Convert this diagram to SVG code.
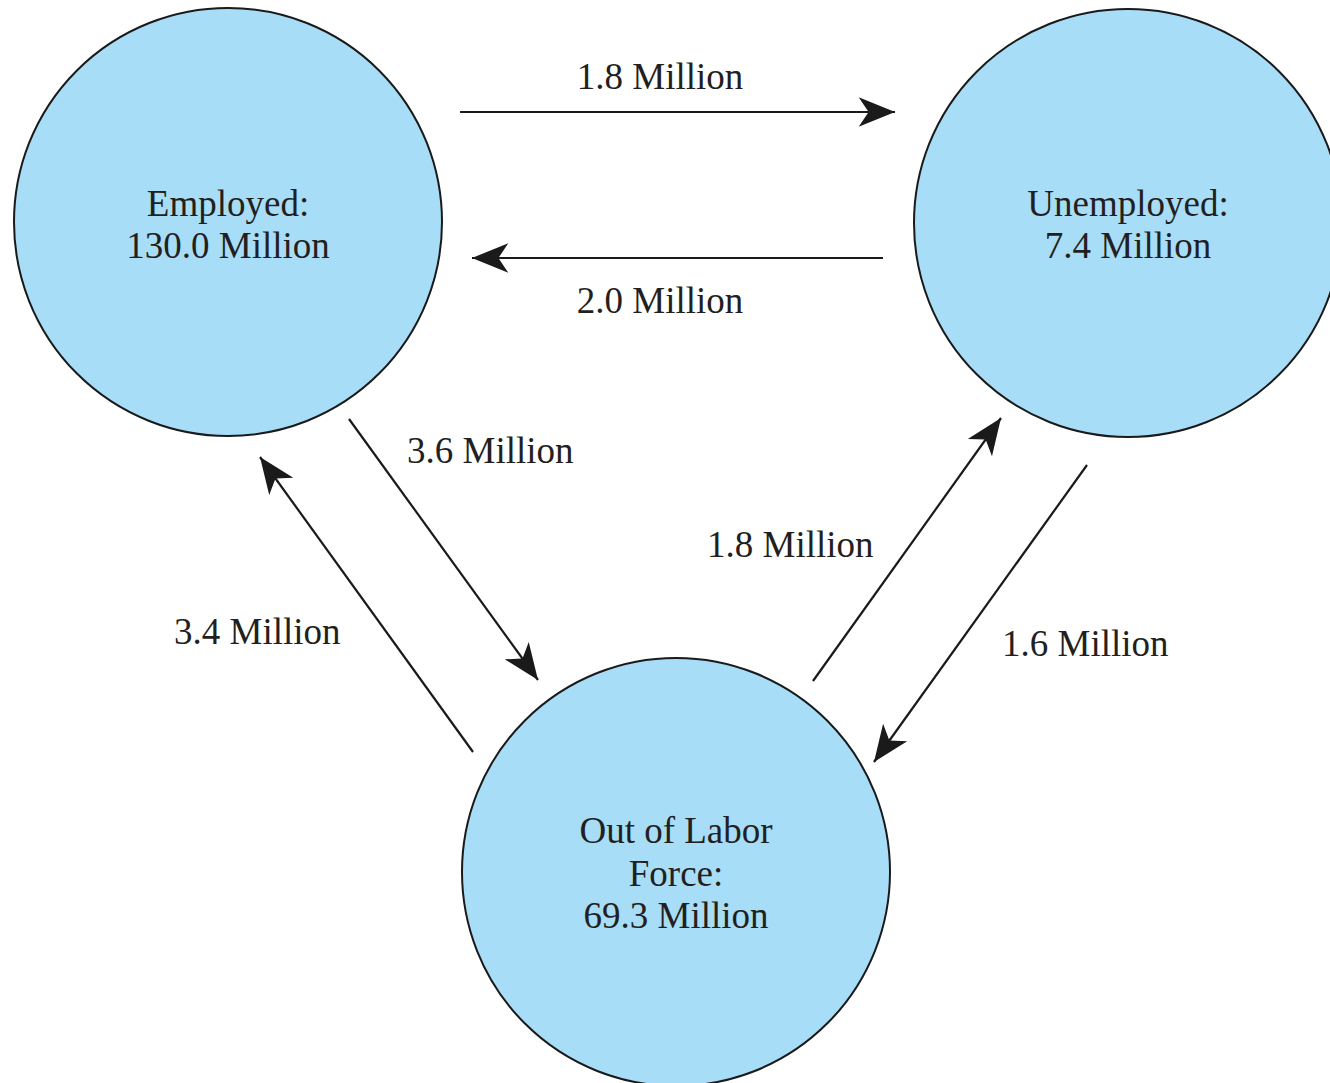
<svg xmlns="http://www.w3.org/2000/svg" width="1330" height="1083" viewBox="0 0 1330 1083">
<style>
.node{fill:#a8ddf7;stroke:#1a1a1a;stroke-width:2}
.t{font-family:"Liberation Serif","Times New Roman",serif;font-size:37px;fill:#231f20}
.c{text-anchor:middle}
.e{stroke:#1a1a1a;stroke-width:2.2;fill:none;marker-end:url(#ah)}
</style>
<defs>
<marker id="ah" markerUnits="userSpaceOnUse" markerWidth="44" markerHeight="44" viewBox="-36 -18 40 36" refX="0" refY="0" orient="auto">
<path d="M0,0 L-33,-13.5 L-24,0 L-33,13.5 Z" fill="#1a1a1a"/>
</marker>
</defs>
<rect width="1330" height="1083" fill="#ffffff"/>
<g id="employed">
<circle class="node" cx="228" cy="222" r="214"/>
<text class="t c" x="228" y="216">Employed:</text>
<text class="t c" x="228" y="258">130.0 Million</text>
</g>
<g id="unemployed">
<circle class="node" cx="1128" cy="223" r="214"/>
<text class="t c" x="1128" y="216">Unemployed:</text>
<text class="t c" x="1128" y="258">7.4 Million</text>
</g>
<g id="out-of-labor-force">
<circle class="node" cx="676" cy="872" r="214"/>
<text class="t c" x="676" y="843">Out of Labor</text>
<text class="t c" x="676" y="886">Force:</text>
<text class="t c" x="676" y="928">69.3 Million</text>
</g>
<g id="connectors">
<line class="e" x1="460" y1="112" x2="895" y2="112"/>
<line class="e" x1="883" y1="258" x2="472" y2="258"/>
<line class="e" x1="349" y1="419" x2="538" y2="680"/>
<line class="e" x1="473" y1="752" x2="260" y2="457"/>
<line class="e" x1="813" y1="681" x2="1001" y2="418"/>
<line class="e" x1="1087" y1="465" x2="874" y2="762"/>
<text class="t c" x="660" y="89">1.8 Million</text>
<text class="t c" x="660" y="313">2.0 Million</text>
<text class="t" x="407" y="463">3.6 Million</text>
<text class="t" x="707" y="557">1.8 Million</text>
<text class="t" x="174" y="644">3.4 Million</text>
<text class="t" x="1002" y="656">1.6 Million</text>
</g>
</svg>
